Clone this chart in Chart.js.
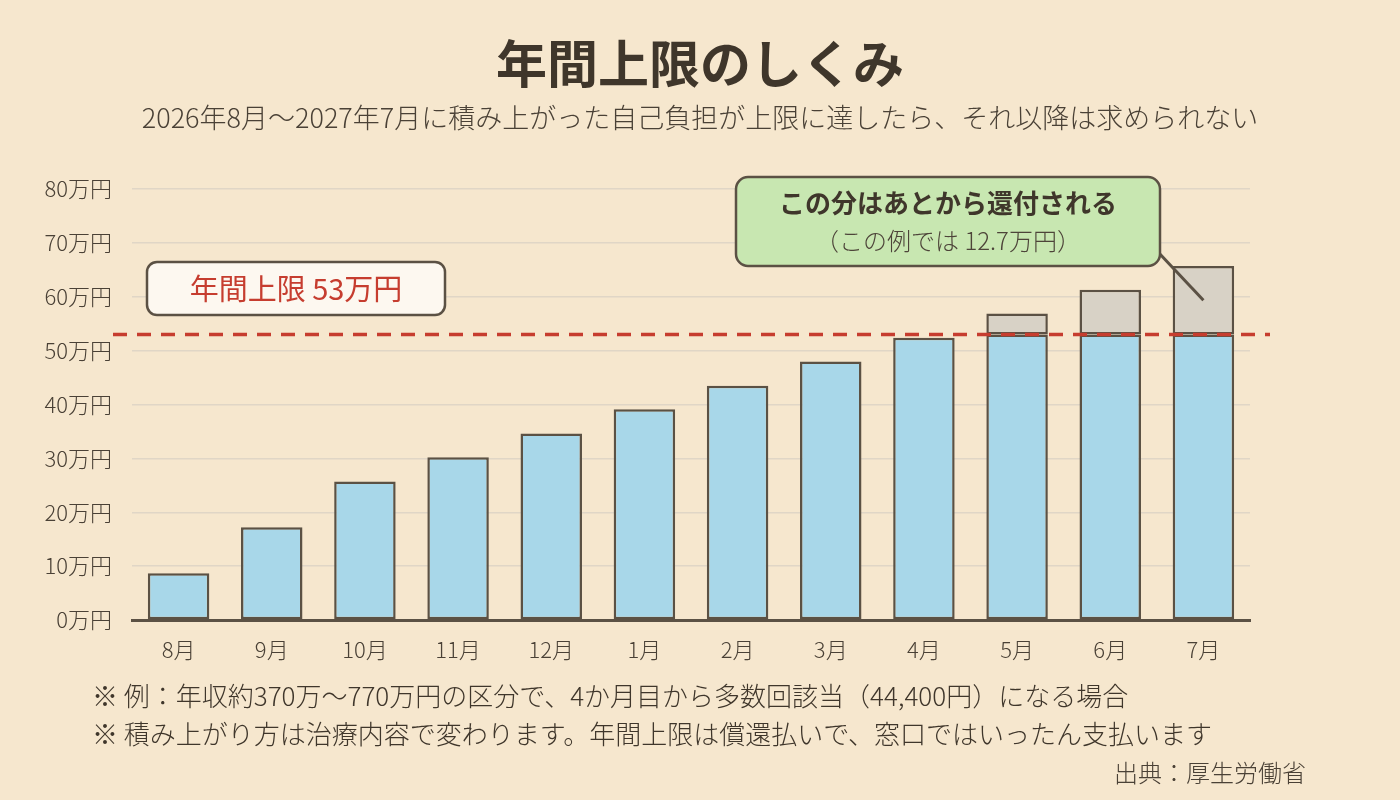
<!DOCTYPE html>
<html>
<head>
<meta charset="utf-8">
<script src="https://cdn.jsdelivr.net/npm/chart.js@4.4.1/dist/chart.umd.min.js"></script>
<style>
  html, body { margin: 0; padding: 0; background: #f6e7ce; }
  #wrap { width: 1400px; height: 800px; position: relative; }
</style>
</head>
<body>
<div id="wrap"><canvas id="chart" width="1400" height="800"></canvas></div>
<script>
// 月ごとの累計自己負担（万円）
const months = ['8月', '9月', '10月', '11月', '12月', '1月', '2月', '3月', '4月', '5月', '6月', '7月'];
const cumulative = [8.7, 17.2, 25.7, 30.2, 34.6, 39.1, 43.5, 48.0, 52.4, 56.9, 61.3, 65.7];
const annualCap = 53;
const yTicks = [0, 10, 20, 30, 40, 50, 60, 70, 80];

const FONT = '"Noto Sans CJK JP", "Noto Sans", sans-serif';
const INK = '#3f362b';
const EDGE = '#5b5144';

// 上限までの分と超えた分に分ける
const underCap = cumulative.map(v => Math.min(v, annualCap));
const overCap = cumulative.map(v => Math.max(0, +(v - annualCap).toFixed(1)));

function roundRect(ctx, x, y, w, h, r) {
  ctx.beginPath();
  ctx.moveTo(x + r, y);
  ctx.arcTo(x + w, y, x + w, y + h, r);
  ctx.arcTo(x + w, y + h, x, y + h, r);
  ctx.arcTo(x, y + h, x, y, r);
  ctx.arcTo(x, y, x + w, y, r);
  ctx.closePath();
}

// タイトル、上限ライン、吹き出し、注記
const decorations = {
  id: 'decorations',
  beforeDraw(chart) {
    const ctx = chart.ctx;
    ctx.save();
    ctx.fillStyle = '#f6e7ce';
    ctx.fillRect(0, 0, chart.width, chart.height);
    ctx.restore();
  },
  afterDatasetsDraw(chart) {
    const ctx = chart.ctx;
    const x = chart.scales.x, y = chart.scales.y;
    ctx.save();

    // 年間上限ライン
    const capY = y.getPixelForValue(annualCap);
    ctx.strokeStyle = '#c63d2f';
    ctx.lineWidth = 3.5;
    ctx.setLineDash([14, 10]);
    ctx.beginPath();
    ctx.moveTo(113, capY);
    ctx.lineTo(1270, capY);
    ctx.stroke();
    ctx.setLineDash([]);

    // 年間上限ラベル
    roundRect(ctx, 147, 262, 298, 53, 10);
    ctx.fillStyle = '#fdf8f0';
    ctx.fill();
    ctx.strokeStyle = EDGE;
    ctx.lineWidth = 2.5;
    ctx.stroke();
    ctx.fillStyle = '#c63d2f';
    ctx.font = '400 29px ' + FONT;
    ctx.textAlign = 'center';
    ctx.textBaseline = 'middle';
    ctx.fillText('年間上限 ' + annualCap + '万円', 296, 289);

    // 還付分の吹き出し
    const last = cumulative.length - 1;
    const tipX = x.getPixelForValue(last);
    const tipY = y.getPixelForValue(annualCap + overCap[last] / 2);
    ctx.strokeStyle = EDGE;
    ctx.lineWidth = 3;
    ctx.beginPath();
    ctx.moveTo(1158, 252);
    ctx.lineTo(tipX, tipY);
    ctx.stroke();

    roundRect(ctx, 736, 177, 424, 89, 12);
    ctx.fillStyle = '#c8e7b1';
    ctx.fill();
    ctx.lineWidth = 2.5;
    ctx.stroke();
    ctx.fillStyle = INK;
    ctx.font = 'bold 26px ' + FONT;
    ctx.fillText('この分はあとから還付される', 948, 203);
    ctx.font = '300 24px ' + FONT;
    ctx.fillStyle = '#4d4439';
    ctx.fillText('（この例では ' + overCap[last] + '万円）', 948, 241);

    // タイトル
    ctx.fillStyle = INK;
    ctx.font = 'bold 51px ' + FONT;
    ctx.fillText('年間上限のしくみ', 700, 64);
    ctx.font = '300 27px ' + FONT;
    ctx.fillStyle = '#4a4136';
    ctx.fillText('2026年8月～2027年7月に積み上がった自己負担が上限に達したら、それ以降は求められない', 700, 118);

    // 注記
    ctx.textAlign = 'left';
    ctx.font = '300 26px ' + FONT;
    ctx.fillStyle = '#3f362b';
    ctx.fillText('※ 例：年収約370万～770万円の区分で、4か月目から多数回該当（44,400円）になる場合', 92, 696);
    ctx.fillText('※ 積み上がり方は治療内容で変わります。年間上限は償還払いで、窓口ではいったん支払います', 92, 734);
    ctx.textAlign = 'right';
    ctx.font = '300 24px ' + FONT;
    ctx.fillStyle = '#4a4136';
    ctx.fillText('出典：厚生労働省', 1306, 773);

    ctx.restore();
  }
};

new Chart(document.getElementById('chart'), {
  type: 'bar',
  data: {
    labels: months,
    datasets: [
      {
        label: '上限まで',
        data: underCap,
        backgroundColor: '#a8d7e9',
        borderColor: EDGE,
        borderWidth: 2.5,
        borderSkipped: false,
        barPercentage: 0.66,
        categoryPercentage: 1.0,
      },
      {
        label: '上限超過分',
        data: overCap,
        backgroundColor: '#d8d2c6',
        borderColor: EDGE,
        borderWidth: 2.5,
        borderSkipped: false,
        barPercentage: 0.66,
        categoryPercentage: 1.0,
      },
    ],
  },
  options: {
    responsive: false,
    animation: false,
    layout: {
      padding: { top: 189, right: 150, bottom: 130, left: 0 },
    },
    plugins: {
      legend: { display: false },
      tooltip: { enabled: false },
      title: { display: false },
    },
    scales: {
      x: {
        stacked: true,
        grid: { display: false, drawTicks: false },
        border: { display: true, color: EDGE, width: 3 },
        ticks: {
          color: '#4a4136',
          font: { family: FONT, size: 22, weight: 300 },
          padding: 16,
        },
        afterFit(scale) { scale.height = 50; },
      },
      y: {
        stacked: true,
        min: 0,
        max: 80,
        afterBuildTicks(scale) {
          scale.ticks = yTicks.map(v => ({ value: v }));
        },
        grid: { color: '#e0d6c6', lineWidth: 1.5, drawTicks: false },
        border: { display: false },
        ticks: {
          color: '#4a4136',
          font: { family: FONT, size: 22, weight: 300 },
          padding: 20,
          callback: v => v + '万円',
        },
        afterFit(scale) { scale.width = 132; },
      },
    },
  },
  plugins: [decorations],
});
</script>
</body>
</html>
